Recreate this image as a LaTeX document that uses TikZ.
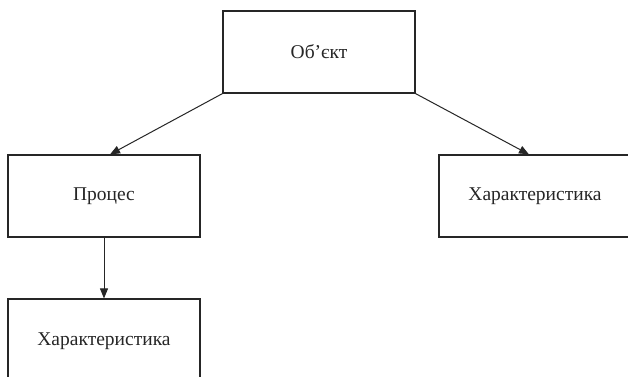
\documentclass[tikz,border=0pt]{standalone}
\usepackage{fontspec}
\setmainfont{Liberation Serif}
\usetikzlibrary{arrows.meta}
\begin{document}
\begin{tikzpicture}[x=1pt,y=-1pt,
  box/.style={draw=black!85,line width=1.2pt,minimum width=192pt,inner sep=0pt,font=\fontsize{19.5}{23}\selectfont,text=black!85,anchor=center},
  conn/.style={draw=black!85,line width=1pt,-{Triangle[length=10pt,width=8pt]}}]
\useasboundingbox (0,0) rectangle (628,376);
\clip (0,0) rectangle (628,376);
\fill[white] (0,0) rectangle (628,376);
\node[box,minimum height=82pt] (obj) at (319,52) {Об’єкт};
\node[box,minimum height=82pt] (proc) at (104,196) {Процес};
\node[box,minimum height=82pt] (char1) at (535,196) {Характеристика};
\node[box,minimum height=84pt] (char2) at (104,341) {Характеристика};
\draw[conn] (obj.south west) -- ([xshift=6pt]proc.north);
\draw[conn] (obj.south east) -- ([xshift=-6pt]char1.north);
\draw[conn] (proc.south) -- (char2.north);
\end{tikzpicture}
\end{document}
